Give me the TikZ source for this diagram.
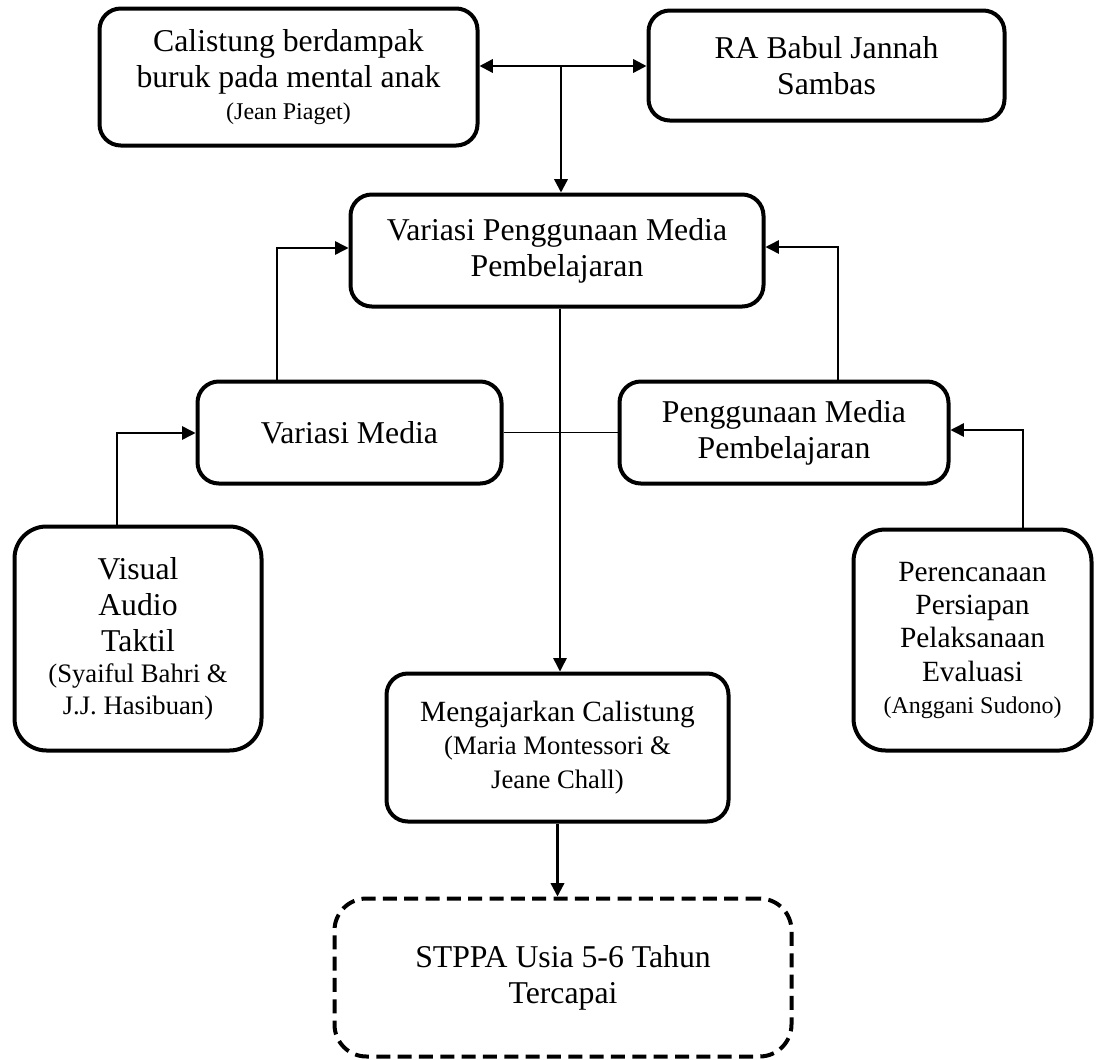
\documentclass[tikz,border=0pt]{standalone}
\usepackage{fontspec}
\setmainfont{Liberation Serif}
\usetikzlibrary{arrows.meta}
\newcommand{\bigsz}{\fontsize{23.8}{27}\selectfont}
\newcommand{\midsz}{\fontsize{22}{25}\selectfont}
\newcommand{\subsz}{\fontsize{20}{24}\selectfont}
\newcommand{\refsz}{\fontsize{18}{22}\selectfont}
\begin{document}
\begin{tikzpicture}[x=0.75pt,y=-0.75pt,
  box/.style={draw, line width=3pt, rounded corners=16pt, align=center, inner sep=0pt, font=\bigsz},
  tallbox/.style={box, rounded corners=24pt},
  dbox/.style={box, rounded corners=24pt, dash pattern=on 10.5pt off 5.5pt},
  thin/.style={line width=1.1pt},
  thickc/.style={line width=1.8pt},
  tip/.style={-{Triangle[length=10pt,width=10pt]}},
  dtip/.style={{Triangle[length=10pt,width=10pt]}-{Triangle[length=10pt,width=10pt]}}]
\useasboundingbox (0,0) rectangle (1097,1060);
\node[box, minimum width=378*0.75pt, minimum height=137*0.75pt] (A) at (288.5,77)
  {Calistung berdampak\\buruk pada mental anak\\[-3pt]{\refsz (Jean Piaget)}};
\node[box, minimum width=356*0.75pt, minimum height=110*0.75pt] (B) at (826.5,65.5)
  {RA Babul Jannah\\Sambas};
\node[box, minimum width=413*0.75pt, minimum height=112*0.75pt] (C) at (557,250.5)
  {Variasi Penggunaan Media\\Pembelajaran};
\node[box, minimum width=304*0.75pt, minimum height=102*0.75pt] (D) at (349.5,432.5)
  {Variasi Media};
\node[box, minimum width=329*0.75pt, minimum height=102*0.75pt] (E) at (784,432.5)
  {Penggunaan Media\\Pembelajaran};
\node[tallbox, minimum width=247*0.75pt, minimum height=224*0.75pt] (F) at (138,638.5)
  {Visual\\Audio\\Taktil\\[-4pt]{\subsz (Syaiful Bahri \&}\\[-3pt]{\subsz J.J. Hasibuan)}};
\node[tallbox, minimum width=238*0.75pt, minimum height=221*0.75pt, font=\midsz] (H) at (972.5,640)
  {Perencanaan\\Persiapan\\Pelaksanaan\\Evaluasi\\[-1pt]{\refsz (Anggani Sudono)}};
\node[box, minimum width=342*0.75pt, minimum height=148*0.75pt, font=\midsz] (G) at (557.5,747.5)
  {Mengajarkan Calistung\\{\subsz (Maria Montessori \&}\\{\subsz Jeane Chall)}};
\node[dbox, minimum width=457*0.75pt, minimum height=158*0.75pt] (I) at (563,977.5)
  {STPPA Usia 5-6 Tahun\\Tercapai};
% connectors
\coordinate (J) at (561,66);
\draw[thickc, dtip] (A.east |- J) -- (B.west |- J);
\draw[thickc, tip] (J) -- (J |- C.north);
\coordinate (kl) at (277,248);
\coordinate (kr) at (838,247);
\draw[thin, tip] (kl |- D.north) |- (C.west |- kl);
\draw[thin, tip] (kr |- E.north) |- (C.east |- kr);
\draw[thin] (D.east) -- (E.west);
\coordinate (kv) at (560,308);
\draw[thin, tip] (kv |- C.south) -- (kv |- G.north);
\coordinate (kf) at (117,433);
\coordinate (kh) at (1023,430);
\draw[thin, tip] (kf |- F.north) |- (D.west |- kf);
\draw[thin, tip] (kh |- H.north) |- (E.east |- kh);
\draw[thickc, tip] (G.south) -- (I.north -| G.south);
\end{tikzpicture}
\end{document}
